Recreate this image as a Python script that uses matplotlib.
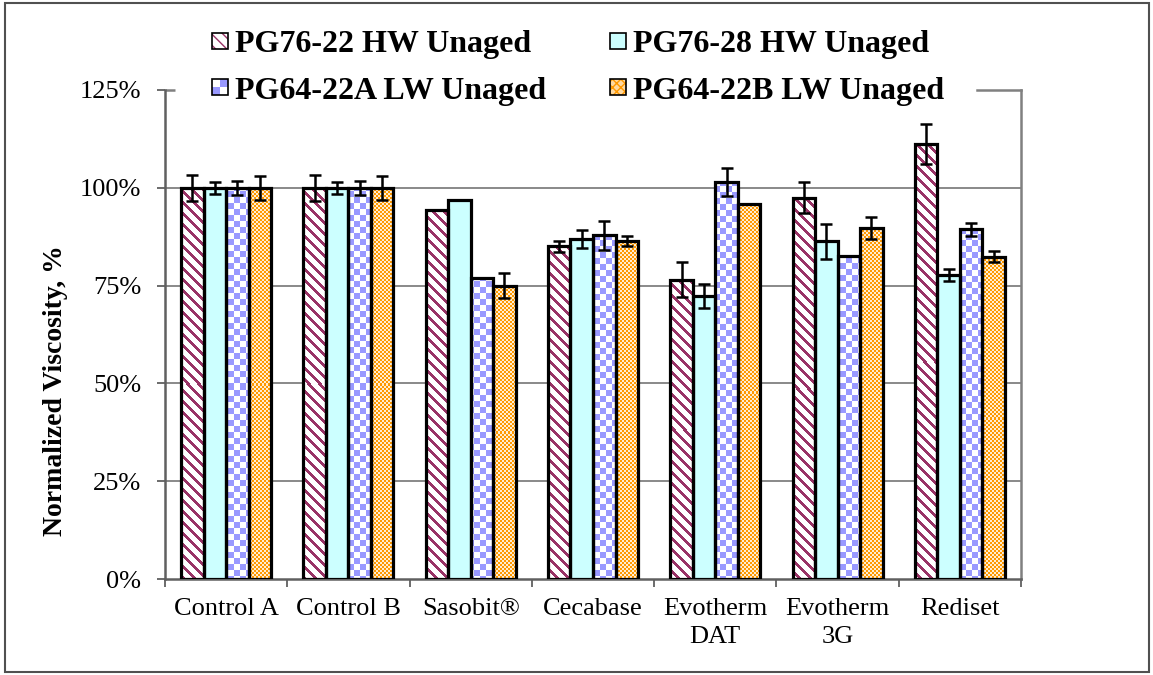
import numpy as np
import matplotlib
matplotlib.use('Agg')
import matplotlib.pyplot as plt
from matplotlib.patches import Rectangle
from matplotlib.legend_handler import HandlerBase
from matplotlib.colors import to_rgb

categories = ['Control A', 'Control B', 'Sasobit®', 'Cecabase',
              'Evotherm\nDAT', 'Evotherm\n3G', 'Rediset']
series = ['PG76-22 HW Unaged', 'PG76-28 HW Unaged',
          'PG64-22A LW Unaged', 'PG64-22B LW Unaged']
pg7622 = [100, 100, 94.2, 85.0, 76.5, 97.5, 111.2]
pg7622_err = [3.3, 3.3, 0, 1.3, 4.5, 3.9, 5.0]
pg7628 = [100, 100, 96.9, 86.9, 72.4, 86.3, 77.7]
pg7628_err = [1.5, 1.5, 0, 2.2, 3.0, 4.5, 1.5]
pg6422a = [100, 100, 77.0, 87.9, 101.4, 82.6, 89.4]
pg6422a_err = [1.8, 1.8, 0, 3.7, 3.6, 0, 1.7]
pg6422b = [100, 100, 75.0, 86.4, 95.9, 89.7, 82.4]
pg6422b_err = [3.0, 3.0, 3.1, 1.4, 0, 2.9, 1.4]
yticks = [0, 25, 50, 75, 100, 125]

values = [pg7622, pg7628, pg6422a, pg6422b]
errors = [pg7622_err, pg7628_err, pg6422a_err, pg6422b_err]
kinds = ['stripe', 'solid', 'checker', 'fine']
MAROON = '#993366'
CYAN = '#CCFFFF'
BLUE = '#9999FF'
ORANGE = '#FF9900'

plt.rcParams['font.family'] = ['Liberation Serif', 'DejaVu Serif']

W, H = 1153, 675
fig = plt.figure(figsize=(W / 100, H / 100), dpi=100)
ax = fig.add_axes([165 / W, 96 / H, (1021 - 165) / W, (579 - 90) / H])
ax.set_xlim(-0.5, len(categories) - 0.5)
ax.set_ylim(0, 125)

# grid & spines
for y in yticks[1:-1]:
    ax.axhline(y, color='#808080', lw=1.3, zorder=0)
ax.spines['top'].set_visible(False)
ax.spines['right'].set_color('#808080')
ax.spines['right'].set_linewidth(1.8)
for s in ['left', 'bottom']:
    ax.spines[s].set_color('#606060')
    ax.spines[s].set_linewidth(1.8)
# visible parts of the top border (the rest is hidden behind the legend)
ax.plot([0, 0.0117], [1, 1], transform=ax.transAxes, color='#808080', lw=1.8,
        clip_on=False, solid_capstyle='butt')
ax.plot([0.9486, 1.0], [1, 1], transform=ax.transAxes, color='#808080', lw=1.8,
        clip_on=False, solid_capstyle='projecting')

ax.set_yticks(yticks)
ax.set_yticklabels([f'{t}%' for t in yticks], fontsize=19)
ax.tick_params(axis='y', length=6, width=1.3, color='#606060', pad=11)
ax.set_xticks(range(len(categories)))
ax.set_xticklabels(categories, fontsize=19, linespacing=1.3)
ax.tick_params(axis='x', which='major', length=0, pad=14)
ax.set_xticks(np.arange(-0.5, len(categories), 1.0), minor=True)
ax.tick_params(axis='x', which='minor', length=6, width=1.3, color='#606060')
ax.set_ylabel('Normalized Viscosity, %', fontsize=20, fontweight='bold')
ax.yaxis.set_label_coords(-0.113, 0.386)

bw = 0.184
offsets = [-1.5 * bw, -0.5 * bw, 0.5 * bw, 1.5 * bw]


def pattern(kind, h, w, c0, r0):
    rr, cc = np.mgrid[r0:r0 + h, c0:c0 + w]
    img = np.ones((h, w, 3))
    if kind == 'stripe':
        m = ((cc - rr) % 11) < 4
        img[m] = to_rgb(MAROON)
    elif kind == 'solid':
        img[:] = to_rgb(CYAN)
    elif kind == 'checker':
        m = ((cc // 6 + rr // 6) % 2) == 0
        img[m] = to_rgb(BLUE)
    else:
        m = ((cc // 2 + rr // 2) % 2) == 0
        img[m] = to_rgb(ORANGE)
        img[~m] = (1.0, 0.93, 0.82)
    return img


x = np.arange(len(categories))
for si in range(4):
    xs = x + offsets[si]
    bars = ax.bar(xs, values[si], bw, facecolor='none', edgecolor='black',
                  linewidth=2.3, zorder=3)
    for b in bars:
        x0, x1 = b.get_x(), b.get_x() + b.get_width()
        y1 = b.get_height()
        p0 = ax.transData.transform((x0, 0))
        p1 = ax.transData.transform((x1, y1))
        wpx = max(int(round(p1[0] - p0[0])), 1)
        hpx = max(int(round(p1[1] - p0[1])), 1)
        img = pattern(kinds[si], hpx, wpx, int(round(p0[0])), int(round(H - p1[1])))
        im = ax.imshow(img, extent=(x0, x1, 0, y1), aspect='auto',
                       interpolation='nearest', zorder=2)
        im.set_clip_path(b)
    e = np.array(errors[si], dtype=float)
    keep = e > 0
    ax.errorbar(xs[keep], np.array(values[si])[keep], yerr=e[keep], fmt='none',
                ecolor='black', elinewidth=1.8, capsize=4.5, capthick=1.8, zorder=4)

ax.set_xlim(-0.5, len(categories) - 0.5)
ax.set_ylim(0, 125)


class PatHandler(HandlerBase):
    def __init__(self, kind):
        super().__init__()
        self.kind = kind

    def legend_artist(self, legend, orig_handle, fontsize, handlebox):
        w, h = handlebox.width, handlebox.height
        s = min(w, h)
        x0 = -handlebox.xdescent + (w - s) / 2
        y0 = -handlebox.ydescent + (h - s) / 2
        tr = handlebox.get_transform()
        arts = []
        if self.kind == 'stripe':
            arts.append(Rectangle((x0, y0), s, s, facecolor='white', edgecolor=MAROON,
                                  hatch='\\\\\\', lw=0, transform=tr))
        elif self.kind == 'solid':
            arts.append(Rectangle((x0, y0), s, s, facecolor=CYAN, lw=0, transform=tr))
        elif self.kind == 'checker':
            arts.append(Rectangle((x0, y0), s, s, facecolor='white', lw=0, transform=tr))
            arts.append(Rectangle((x0, y0), s / 2, s / 2, facecolor=BLUE, lw=0, transform=tr))
            arts.append(Rectangle((x0 + s / 2, y0 + s / 2), s / 2, s / 2, facecolor=BLUE, lw=0, transform=tr))
        else:
            arts.append(Rectangle((x0, y0), s, s, facecolor='#FFD9A0', edgecolor=ORANGE,
                                  hatch='xxxx', lw=0, transform=tr))
        arts.append(Rectangle((x0, y0), s, s, facecolor='none', edgecolor='black',
                              lw=1.2, transform=tr))
        for a in arts:
            handlebox.add_artist(a)
        return arts[-1]


proxies = [Rectangle((0, 0), 1, 1) for _ in series]
hmap = {p: PatHandler(k) for p, k in zip(proxies, kinds)}
order = [0, 2, 1, 3]  # row-wise filling: row 1 = series 0, 1; row 2 = series 2, 3
leg = fig.legend([proxies[i] for i in order], [series[i] for i in order],
                 handler_map=hmap, ncol=2,
                 loc='center', bbox_to_anchor=(578 / W, 1 - 68 / H),
                 prop={'family': 'Liberation Serif', 'weight': 'bold', 'size': 23},
                 frameon=False, handlelength=0.5, handleheight=0.5,
                 handletextpad=0.22, columnspacing=2.0, labelspacing=0.55,
                 borderpad=0.0)

fig.patches.append(Rectangle((5 / W, 3 / H), 1 - 9 / W, 1 - 6 / H, transform=fig.transFigure,
                             facecolor='none', edgecolor='#505050', lw=1.5))

fig.savefig('out.png', dpi=100)
